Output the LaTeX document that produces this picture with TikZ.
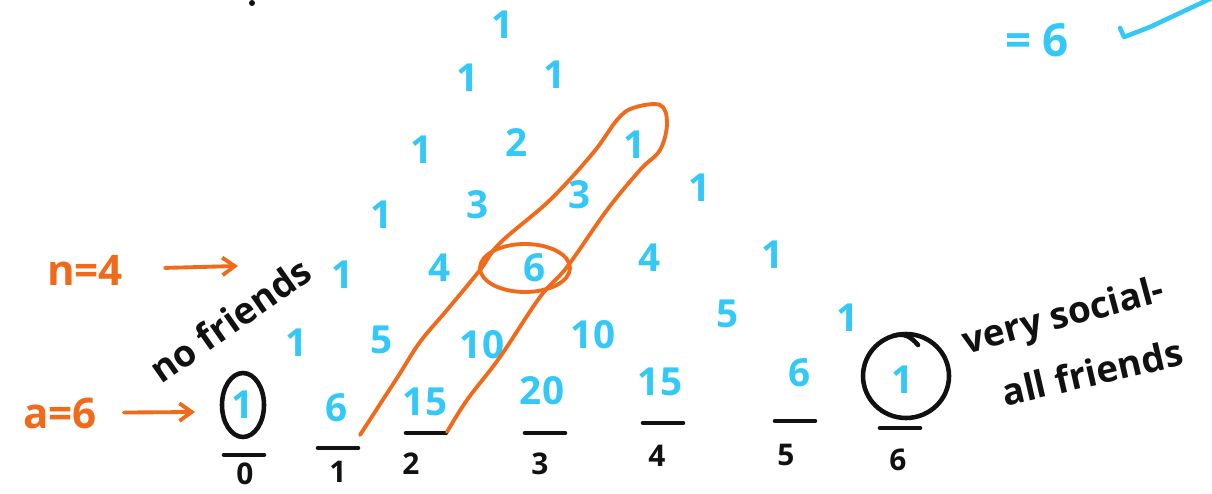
\documentclass[tikz,border=0pt]{standalone}
\usepackage{fontspec}
\setmainfont{Open Sans}
\usepackage{tikz}
\usetikzlibrary{arrows.meta,calc}
\usepackage{xcolor}
\definecolor{inkblue}{HTML}{33C8F8}
\definecolor{inkorange}{HTML}{F06A1C}
\definecolor{inkblack}{HTML}{111111}

\begin{document}
\begin{tikzpicture}[x=0.02cm, y=-0.02cm, >={Straight Barb[length=7pt,width=10pt]}, line cap=round, line join=round]
  \useasboundingbox (0,0) rectangle (1212,493);
  \tikzset{
    num/.style={text=inkblue, font=\fontsize{22}{24}\selectfont\bfseries, inner sep=1pt},
    idx/.style={text=inkblack, font=\fontsize{17}{19}\selectfont\bfseries, inner sep=1pt},
    note/.style={text=inkblack, font=\fontsize{21}{23}\selectfont\bfseries, inner sep=1pt},
    onote/.style={text=inkorange, font=\fontsize{24}{26}\selectfont\bfseries, inner sep=1pt},
    bnote/.style={text=inkblue, font=\fontsize{26}{28}\selectfont\bfseries, inner sep=1pt},
    hl/.style={draw=inkorange, line width=2.2pt},
    ring/.style={draw=inkblack, line width=2.6pt},
    uline/.style={draw=inkblack, line width=2.6pt}
  }

  \foreach \x/\y/\l/\n in {503/25/1/t00,
      468/78/1/t10, 555/75/1/t11,
      422/150/1/t20, 517/143/2/t21, 635/145/1/t22,
      382/215/1/t30, 478/205/3/t31, 580/195/3/t32, 700/188/1/t33,
      343/275/1/t40, 440/268/4/t41, 535/268/6/t42, 650/258/4/t43, 773/255/1/t44,
      297/343/1/t50, 382/340/5/t51, 482/345/10/t52, 593/335/10/t53, 728/314/5/t54, 848/318/1/t55,
      243/405/1/t60, 337/408/6/t61, 425/402/15/t62, 542/391/20/t63, 660/382/15/t64, 800/373/6/t65, 903/380/1/t66} {
    \node[num] (\n) at (\x,\y) {\l};
  }

  \foreach \ux/\uy/\lx/\ly/\l in {244/455/245/474/0, 338/448/338/472/1, 426/433/411/464/2,
      545/433/540/464/3, 663/423/657/456/4, 795/421/786/455/5, 900/428/898/460/6} {
    \draw[uline] (\ux-20,\uy) -- (\ux+20,\uy);
    \node[idx] (i\l) at (\lx,\ly) {\l};
  }

  \draw[ring] (t60) ellipse (21 and 32);
  \draw[ring] ($(t66)+(3,-4)$) ellipse (43 and 42);
  \draw[ring] (893,336) .. controls (905,332) and (912,338) .. (918,345);

  \draw[hl] plot[smooth, tension=0.6] coordinates {(360,435) (397,378) (420,342) (447,310)
      (480,270) (500,243) (550,200) (593,153) (617,120) (633,108) (660,105) (667,123)
      (660,150) (640,170) (607,210) (567,267) (540,297) (500,357) (467,400) (447,432)};
  \draw[hl] ($(t42)+(-10,0)$) ellipse (45 and 24);

  \node[onote] (n4) at (85,270) {n=4};
  \coordinate (n4end) at (238,266);
  \draw[hl, ->, shorten <=0.8cm] (n4) -- (n4end);
  \node[onote] (a6) at (60,413) {a=6};
  \coordinate (a6end) at (195,412);
  \draw[hl, ->, shorten <=0.5cm] (a6) -- (a6end);

  \node[note, rotate=35] (nofr) at (230,320) {no friends};
  \node[note, rotate=15] (vsoc) at (1064,318) {very social-};
  \node[note, rotate=13] (allfr) at (1092,372) {all friends};

  \node[bnote] (eq6) at (1037,40) {= 6};
  \draw[draw=inkblue, line width=2.6pt] (1120,28) -- (1124,37) -- (1150,27) -- (1214,-3);
  \fill[inkblack] (252,3) circle (3);
\end{tikzpicture}
\end{document}
